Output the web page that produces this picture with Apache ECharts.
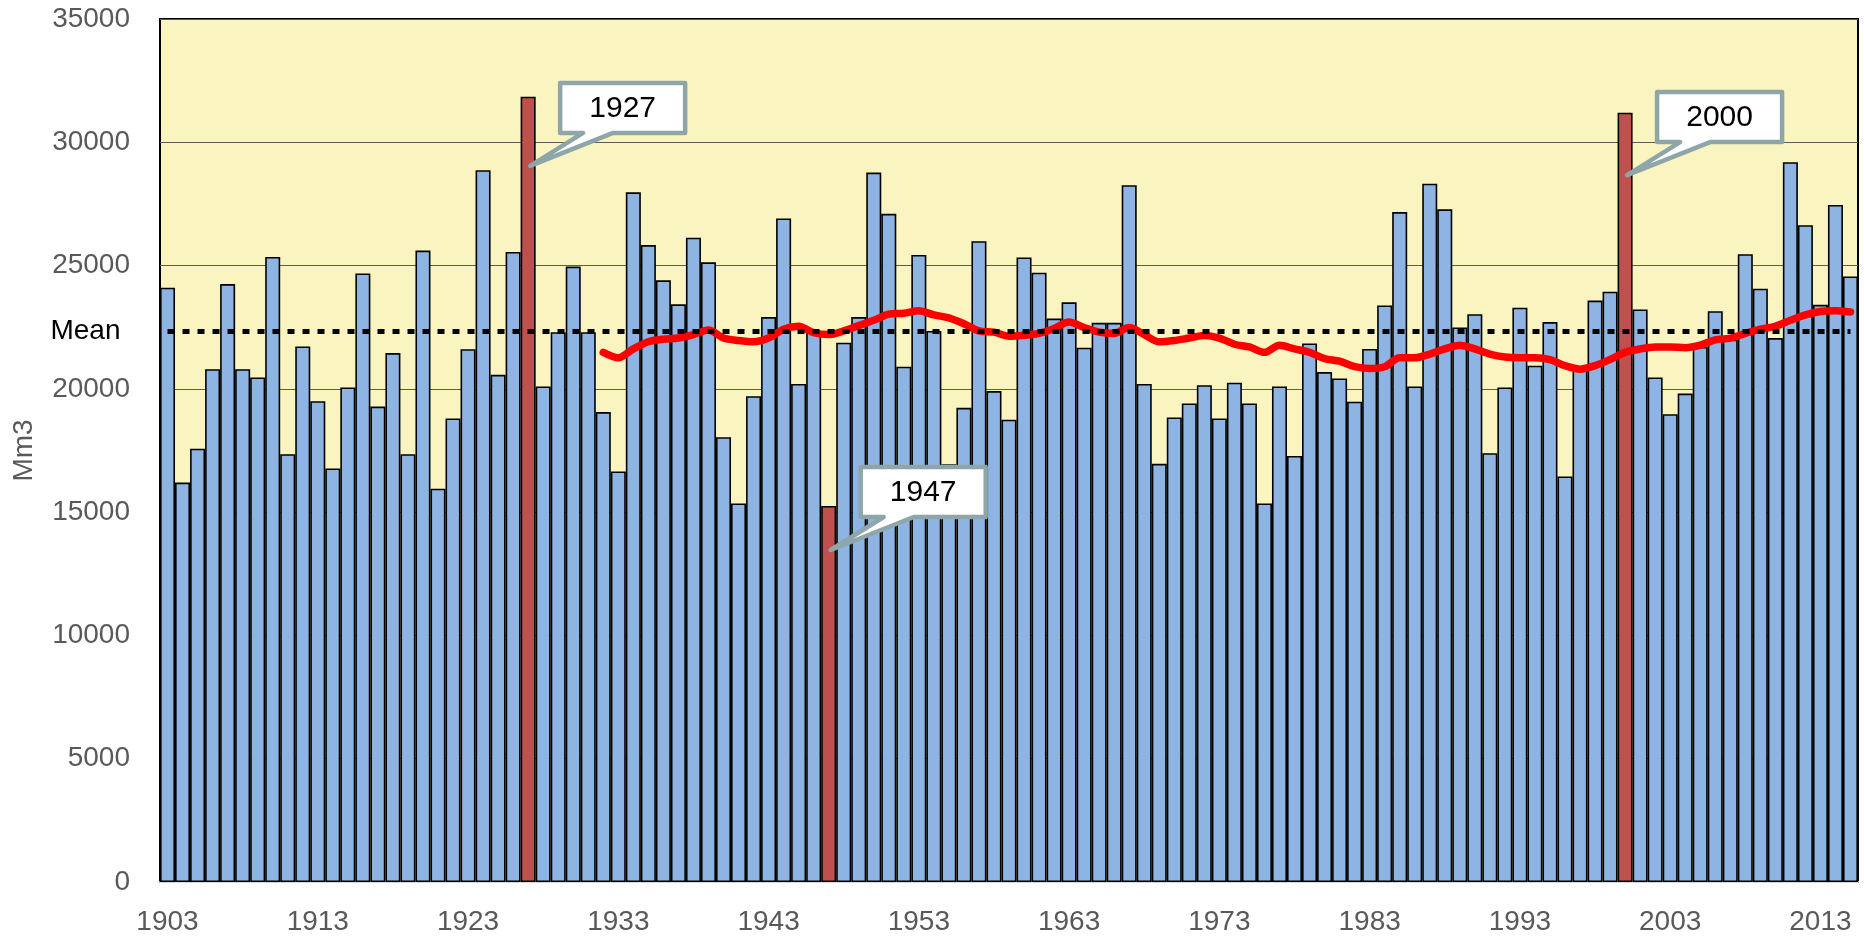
<!DOCTYPE html>
<html><head><meta charset="utf-8">
<script src="https://cdn.jsdelivr.net/npm/echarts@6/dist/echarts.min.js"></script>
<style>html,body{margin:0;padding:0;background:#fff}#chart{width:1864px;height:939px}</style>
</head><body><div id="chart"></div>
<script>
// ---- data ----
const startYear = 1903;
const flowValues = [
  24100, 16200, 17570, 20800, 24250, 20800, 20460, 25350, 17350, 21720, // 1903-1912
  19500, 16770, 20060, 24680, 19280, 21450, 17350, 25610, 15950, 18800, // 1913-1922
  21610, 28870, 20570, 25550, 31850, 20100, 22300, 24960, 22300, 19060, // 1923-1932
  16650, 27970, 25830, 24400, 23430, 26130, 25130, 18040, 15350, 19700, // 1933-1942
  22910, 26910, 20200, 22300, 15250, 21870, 22910, 28770, 27100, 20900, // 1943-1952
  25430, 22350, 16940, 19230, 25990, 19910, 18750, 25330, 24710, 22850, // 1953-1962
  23510, 21670, 22680, 22680, 28260, 20200, 16960, 18840, 19410, 20150, // 1963-1972
  18800, 20250, 19410, 15350, 20100, 17280, 21840, 20680, 20420, 19480, // 1973-1982
  21620, 23380, 27170, 20100, 28320, 27280, 22490, 23030, 17390, 20060, // 1983-1992
  23290, 20940, 22710, 16450, 20850, 23580, 23940, 31200, 23220, 20460, // 1993-2002
  18970, 19810, 21700, 23150, 22000, 25460, 24060, 22060, 29190, 26640, // 2003-2012
  23410, 27460, 24560                                                   // 2013-2015
];
const highlightYears = ['1927', '1947', '2000'];
const meanValue = 22350;
const meanLabel = 'Mean';
const movingAvgStartYear = 1932;
const movingAvgValues = [
  21480, 21260, 21620, 21910, 22010, 22060, 22200, 22390, 22060, 21960, // 1932-1941
  21910, 22060, 22420, 22540, 22280, 22200, 22350, 22570, 22780, 23030, // 1942-1951
  23070, 23170, 23000, 22880, 22640, 22350, 22300, 22130, 22170, 22250, // 1952-1961
  22450, 22710, 22490, 22300, 22250, 22490, 22200, 21910, 21960, 22060, // 1962-1971
  22160, 22060, 21810, 21700, 21480, 21770, 21620, 21480, 21230, 21120, // 1972-1981
  20900, 20830, 20900, 21260, 21260, 21410, 21620, 21770, 21620, 21410, // 1982-1991
  21290, 21260, 21260, 21190, 20940, 20800, 20940, 21190, 21480, 21620, // 1992-2001
  21700, 21700, 21670, 21770, 21990, 22060, 22250, 22420, 22540, 22780, // 2002-2011
  23000, 23140, 23170, 23120                                            // 2012-2015
];
const calloutYears = ['1927', '1947', '2000'];
const calloutTipValues = [29040, 13465, 28670];
const yAxisMin = 0, yAxisMax = 35000, yAxisInterval = 5000;
const yAxisName = 'Mm3';

// ---- build ----
const years = flowValues.map((_, i) => String(startYear + i));
const barData = flowValues.map((v, i) => highlightYears.includes(years[i])
  ? { value: v, itemStyle: { color: '#C0504D' } } : v);
const maOffset = movingAvgStartYear - startYear;
const maData = years.map((y, i) => (i >= maOffset ? movingAvgValues[i - maOffset] : null));
const calloutData = calloutYears.map((y, i) => [y, calloutTipValues[i]]);

const FONT = '"Liberation Sans", Arial, Helvetica, sans-serif';
const chart = echarts.init(document.getElementById('chart'), null, { renderer: 'canvas' });
chart.setOption({
  animation: false,
  textStyle: { fontFamily: FONT },
  grid: { left: 160, right: 6, top: 19, bottom: 57, show: true,
          backgroundColor: '#FAF5C0', borderColor: '#000', borderWidth: 2 },
  xAxis: {
    type: 'category', data: years, boundaryGap: true,
    axisLine: { show: true, lineStyle: { color: '#D9D9D9', width: 2 } },
    axisTick: { show: false },
    axisLabel: { interval: 9, fontSize: 28, color: '#595959', margin: 26, fontFamily: FONT },
    splitLine: { show: false }
  },
  yAxis: {
    type: 'value', min: yAxisMin, max: yAxisMax, interval: yAxisInterval,
    name: yAxisName, nameLocation: 'middle', nameGap: 122,
    nameTextStyle: { fontSize: 28, color: '#595959', fontFamily: FONT },
    axisLine: { show: false }, axisTick: { show: false },
    axisLabel: { fontSize: 28, color: '#595959', margin: 30, fontFamily: FONT,
                 formatter: function (v) { return String(v); } },
    splitLine: { show: true, lineStyle: { color: '#5C5C52', width: 1.2 } }
  },
  series: [
    {
      type: 'bar', data: barData, barCategoryGap: '0%', barGap: '0%',
      itemStyle: { color: '#8EB4E3', borderColor: '#000', borderWidth: 1.6 },
      z: 2, silent: true
    },
    {
      type: 'line', data: maData, smooth: 0.3, showSymbol: false, symbol: 'none',
      connectNulls: false,
      lineStyle: { color: '#FF0000', width: 7.5, cap: 'round', join: 'round' },
      z: 3, silent: true
    },
    {
      type: 'line', data: [], z: 4, silent: true,
      markLine: {
        silent: true, symbol: ['none', 'none'], animation: false,
        lineStyle: { color: '#000', width: 5, type: [7, 8], cap: 'butt' },
        label: { show: true, position: 'start', formatter: meanLabel, distance: 47,
                 fontSize: 28, color: '#000', fontFamily: FONT },
        emphasis: { disabled: true },
        data: [[{ coord: [years[0], meanValue] }, { coord: [years[years.length - 1], meanValue] }]]
      }
    },
    {
      type: 'custom', data: calloutData, z: 10, clip: false, silent: true,
      encode: { x: 0, y: 1 },
      renderItem: function (params, api) {
        const p = api.coord([api.value(0), api.value(1)]);
        const tx = p[0] + 2, ty = p[1];
        const L = tx + 30, T = ty - 83, W = 125, H = 50, R = L + W, B = T + H;
        return {
          type: 'group',
          children: [
            { type: 'polygon',
              shape: { points: [[L, T], [R, T], [R, B], [L + 53, B], [tx, ty], [L + 23, B], [L, B]] },
              style: { fill: '#fff', stroke: '#8EA6A9', lineWidth: 4.5, lineJoin: 'round' } },
            { type: 'text',
              style: { x: L + W / 2, y: T + H / 2 + 1, text: calloutYears[params.dataIndex],
                       align: 'center', verticalAlign: 'middle',
                       font: '30px ' + FONT, fill: '#000' } }
          ]
        };
      }
    }
  ]
});
</script>
</body></html>
